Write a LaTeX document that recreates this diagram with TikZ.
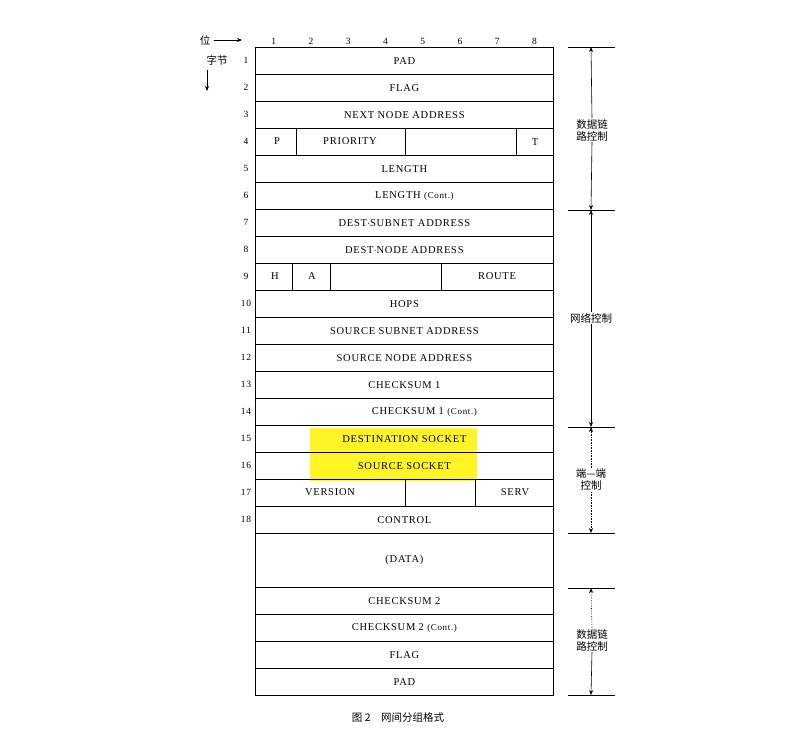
\documentclass[tikz,border=0pt]{standalone}
\usepackage{fontspec}
\setmainfont{Liberation Serif}[LetterSpace=7]
\newfontfamily\cjk{Noto Sans CJK SC}
\usetikzlibrary{arrows.meta}
\begin{document}
\begin{tikzpicture}[x=1pt,y=-1pt,
  cell/.style={draw,thick,minimum height=27pt,inner sep=0pt,anchor=north west,font=\fontsize{10.5}{12}\selectfont},
  txt/.style={font=\fontsize{10.5}{12}\selectfont},
  num/.style={font=\fontsize{9.5}{11}\selectfont},
  lab/.style={font=\cjk\fontsize{10.5}{12}\selectfont,align=center,fill=white,inner sep=1pt},
  arr/.style={-{Stealth[length=5pt,width=4pt]},semithick}]
\useasboundingbox (0,0) rectangle (807,739);
% highlight
\fill[yellow!85] (310,428) rectangle (477,481);
% header
\node[font=\cjk\fontsize{10.5}{12}\selectfont] (wei) at (205,40) {位};
\coordinate (weiEnd) at (242,40);
\draw[arr] (wei.east) -- (weiEnd);
\node[font=\cjk\fontsize{10.5}{12}\selectfont] (zj) at (217,60) {字节};
\coordinate (zjEnd) at (207,91);
\draw[arr] (207,70) -- (zjEnd);
\foreach \i in {1,...,8}{\node[num] (c\i) at ({255+37.25*(\i-0.5)},41) {\i};}
% rows
\foreach \t [count=\i] in {PAD,FLAG,NEXT NODE ADDRESS,,LENGTH,\hspace*{20pt}LENGTH {\fontsize{9}{10}\selectfont(Cont.)},DEST$\cdot$SUBNET ADDRESS,DEST$\cdot$NODE ADDRESS,,HOPS,SOURCE SUBNET ADDRESS,SOURCE NODE ADDRESS,CHECKSUM 1,\hspace*{40pt}CHECKSUM 1 {\fontsize{9}{10}\selectfont(Cont.)},DESTINATION SOCKET,SOURCE SOCKET,,CONTROL}{
  \node[cell,minimum width=298pt] (r\i) at (255,{47+27*(\i-1)}) {\t};
  \node[num] (n\i) at (246,{60.5+27*(\i-1)}) {\i};
}
% row 4 split
\draw[thick] (296,128) -- (296,155) (405,128) -- (405,155) (516,128) -- (516,155);
\node[txt] (p4) at (277,141.5) {P};
\node[txt] (pr4) at (350,141.5) {PRIORITY};
\node[txt] (t4) at (535,142.5) {T};
% row 9 split
\draw[thick] (292,263) -- (292,290) (330,263) -- (330,290) (441,263) -- (441,290);
\node[txt] (h9) at (275,276.5) {H};
\node[txt] (a9) at (312,276.5) {A};
\node[txt] (ro9) at (497,276.5) {ROUTE};
% row 17 split
\draw[thick] (405,479) -- (405,506) (475,479) -- (475,506);
\node[txt] (v17) at (330,492.5) {VERSION};
\node[txt] (s17) at (515,492.5) {SERV};
% data & trailer
\node[cell,minimum width=298pt,minimum height=54pt] (data) at (255,533) {(DATA)};
\foreach \t [count=\i] in {CHECKSUM 2,CHECKSUM 2 {\fontsize{9}{10}\selectfont(Cont.)},FLAG,PAD}{
  \node[cell,minimum width=298pt] (e\i) at (255,{587+27*(\i-1)}) {\t};}
% right groups
\foreach \y [count=\k] in {47,210,427,533,588,695}{
  \coordinate (tk\k) at (591,\y);
  \draw[semithick] (568,\y) -- (615,\y);}
\node[lab] (g1) at (592,130) {数据链\\路控制};
\node[lab] (g2) at (591,318) {网络控制};
\node[lab] (g3) at (591,480) {端—端\\控制};
\node[lab] (g4) at (592,640) {数据链\\路控制};
\draw[arr] (g1.north) -- (tk1); \draw[arr] (g1.south) -- (tk2);
\draw[arr] (g2.north) -- (tk2); \draw[arr] (g2.south) -- (tk3);
\draw[arr,densely dotted] (g3.north) -- (tk3); \draw[arr,densely dotted] (g3.south) -- (tk4);
\draw[arr,densely dotted] (g4.north) -- (tk5); \draw[arr] (g4.south) -- (tk6);
% caption
\node[font=\cjk\fontsize{10.5}{12}\selectfont] (cap) at (398,718) {图\ 2\quad 网间分组格式};
\end{tikzpicture}
\end{document}
